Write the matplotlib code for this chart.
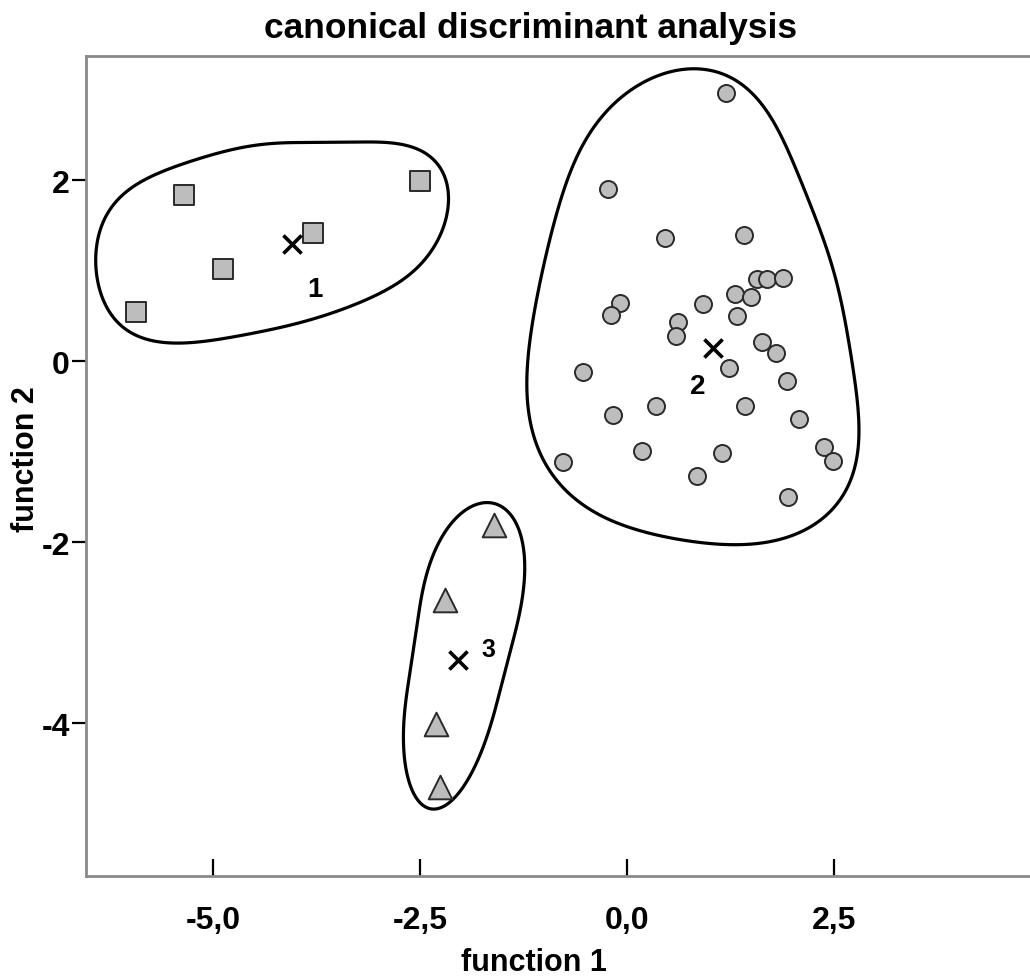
import numpy as np
import matplotlib.pyplot as plt
from matplotlib.patches import Polygon

plt.rcParams['font.family'] = ['Liberation Sans', 'DejaVu Sans']

# discriminant scores per group
g1_x = [-5.36, -4.89, -5.93, -3.80, -2.50]
g1_y = [1.83, 1.02, 0.54, 1.41, 1.99]

g2_x = [1.19, -0.23, 0.46, 1.41, 1.57, 1.69, 1.89, 1.31, 1.50, -0.08, 0.92,
        -0.19, 1.33, 0.62, 0.59, 1.63, 1.80, 1.23, -0.53, 1.93, 0.35, -0.17,
        1.43, 2.08, 0.18, 1.15, 2.38, 2.49, -0.77, 0.85, 1.95]
g2_y = [2.96, 1.90, 1.36, 1.39, 0.91, 0.91, 0.92, 0.74, 0.71, 0.64, 0.63,
        0.51, 0.50, 0.43, 0.28, 0.21, 0.09, -0.08, -0.12, -0.22, -0.50, -0.60,
        -0.50, -0.64, -0.99, -1.02, -0.95, -1.10, -1.12, -1.27, -1.50]

g3_x = [-1.61, -2.20, -2.31, -2.26]
g3_y = [-1.81, -2.64, -4.01, -4.71]

# group centroids and their labels
cent_x = [-4.05, 1.04, -2.04]
cent_y = [1.29, 0.14, -3.30]
cent_lbl = ['1', '2', '3']
lbl_x = [-3.77, 0.86, -1.68]
lbl_y = [0.80, -0.28, -3.18]
lbl_size = [20, 20, 18]

# outline vertices around each group (smoothed below)
hull1_x = [-6.40, -6.31, -6.03, -5.55, -4.95, -4.14, -3.33, -2.60, -2.32,
           -2.18, -2.18, -2.29, -2.53, -2.93, -3.53, -4.34, -5.14, -5.67,
           -6.07, -6.31, -6.40]
hull1_y = [1.31, 1.65, 1.90, 2.12, 2.31, 2.42, 2.42, 2.38, 2.27,
           2.01, 1.65, 1.31, 1.02, 0.76, 0.54, 0.33, 0.21, 0.21,
           0.32, 0.57, 0.94]

hull2_x = [0.97, 0.40, -0.08, -0.45, -0.65, -0.85, -1.02, -1.14, -1.20,
           -1.20, -1.09, -0.85, -0.41, 0.19, 0.92, 1.61, 2.21, 2.58, 2.76,
           2.79, 2.76, 2.61, 2.42, 2.13, 1.81, 1.49, 1.25]
hull2_y = [3.25, 3.15, 2.92, 2.56, 2.20, 1.60, 1.05, 0.50, -0.06,
           -0.61, -0.97, -1.34, -1.67, -1.89, -2.04, -2.00, -1.86, -1.60,
           -1.16, -0.61, -0.06, 0.50, 1.24, 1.98, 2.53, 3.01, 3.19]

hull3_x = [-1.61, -1.48, -1.34, -1.27, -1.26, -1.31, -1.41, -1.57, -1.75,
           -1.96, -2.16, -2.36, -2.53, -2.64, -2.68, -2.66, -2.56, -2.41,
           -2.20, -2.00, -1.80]
hull3_y = [-1.49, -1.55, -1.74, -2.02, -2.35, -2.80, -3.29, -3.78, -4.23,
           -4.67, -4.95, -5.06, -4.97, -4.67, -4.17, -3.61, -2.95, -2.35,
           -1.91, -1.66, -1.52]

xticks = [-5.0, -2.5, 0.0, 2.5]
xtick_labels = ['-5,0', '-2,5', '0,0', '2,5']
yticks = [2, 0, -2, -4]
ytick_labels = ['2', '0', '-2', '-4']


def convex(pts):
    # monotone chain, returns hull vertices in order
    pts = sorted(set(map(tuple, np.round(pts, 6))))

    def cross(o, a, b):
        return (a[0] - o[0]) * (b[1] - o[1]) - (a[1] - o[1]) * (b[0] - o[0])

    lower, upper = [], []
    for p in pts:
        while len(lower) >= 2 and cross(lower[-2], lower[-1], p) <= 0:
            lower.pop()
        lower.append(p)
    for p in reversed(pts):
        while len(upper) >= 2 and cross(upper[-2], upper[-1], p) <= 0:
            upper.pop()
        upper.append(p)
    return np.array(lower[:-1] + upper[:-1])


def smooth_closed(xs, ys, asp, keep=6, n=512):
    # resample the closed outline by arc length, low-pass it, keep it convex
    z = np.asarray(xs) + 1j * np.asarray(ys) * asp
    zz = np.r_[z, z[:1]]
    s = np.r_[0, np.cumsum(np.abs(np.diff(zz)))]
    u = np.linspace(0, s[-1], n, endpoint=False)
    zr = np.interp(u, s, zz.real) + 1j * np.interp(u, s, zz.imag)
    f = np.fft.fft(zr)
    f[keep + 1:n - keep] = 0
    zs = np.fft.ifft(f)
    h = convex(np.column_stack([zs.real, zs.imag]))
    return np.column_stack([h[:, 0], h[:, 1] / asp])


fig = plt.figure(figsize=(10.30, 9.78), dpi=100)
ax = fig.add_axes([0.0835, 0.1033, 0.9165, 0.8384])
ax.set_xlim(-6.54, 4.87)
ax.set_ylim(-5.69, 3.37)

# pixels per data unit in y relative to x, so smoothing is isotropic on screen
bb = ax.get_window_extent()
asp = (bb.height / 9.06) / (bb.width / 11.41)

for hx, hy, k in [(hull1_x, hull1_y, 6), (hull2_x, hull2_y, 6),
                  (hull3_x, hull3_y, 4)]:
    pts = smooth_closed(hx, hy, asp, keep=k)
    ax.add_patch(Polygon(pts, closed=True, fill=False, edgecolor='black',
                         lw=2.3, joinstyle='round', zorder=2))

face = '#bdbdbd'
edge = '#2a2a2a'
ax.scatter(g1_x, g1_y, marker='s', s=205, facecolor=face, edgecolor=edge,
           linewidth=1.4, zorder=3)
ax.scatter(g2_x, g2_y, marker='o', s=150, facecolor=face, edgecolor=edge,
           linewidth=1.4, zorder=3)
ax.scatter(g3_x, g3_y, marker='^', s=290, facecolor=face, edgecolor=edge,
           linewidth=1.4, zorder=3)
ax.scatter(cent_x, cent_y, marker='x', s=170, color='black', linewidth=2.6,
           zorder=4)
for lx, ly, t, fs in zip(lbl_x, lbl_y, cent_lbl, lbl_size):
    ax.text(lx, ly, t, fontsize=fs, fontweight='bold', ha='center',
            va='center', zorder=5)

ax.set_xticks(xticks)
ax.set_xticklabels(xtick_labels)
ax.set_yticks(yticks)
ax.set_yticklabels(ytick_labels)
ax.tick_params(axis='x', direction='in', length=12, width=1.6, pad=21,
               labelsize=23)
ax.tick_params(axis='y', direction='out', length=10, width=1.6, pad=1.5,
               labelsize=23)
for lab in ax.get_xticklabels() + ax.get_yticklabels():
    lab.set_fontweight('bold')

ax.spines['right'].set_visible(False)
for s in ['left', 'top', 'bottom']:
    ax.spines[s].set_color('#8a8a8a')
    ax.spines[s].set_linewidth(2.0)

ax.set_xlabel('function 1', fontsize=22, fontweight='bold', va='center')
ax.xaxis.set_label_coords(0.4746, -0.105)
ax.set_ylabel('function 2', fontsize=22, fontweight='bold', va='center')
ax.yaxis.set_label_coords(-0.0640, 0.509)

fig.text(0.5155, 0.971, 'canonical discriminant analysis', fontsize=25.5,
         fontweight='bold', ha='center', va='center')

fig.savefig('out.png', dpi=100)
